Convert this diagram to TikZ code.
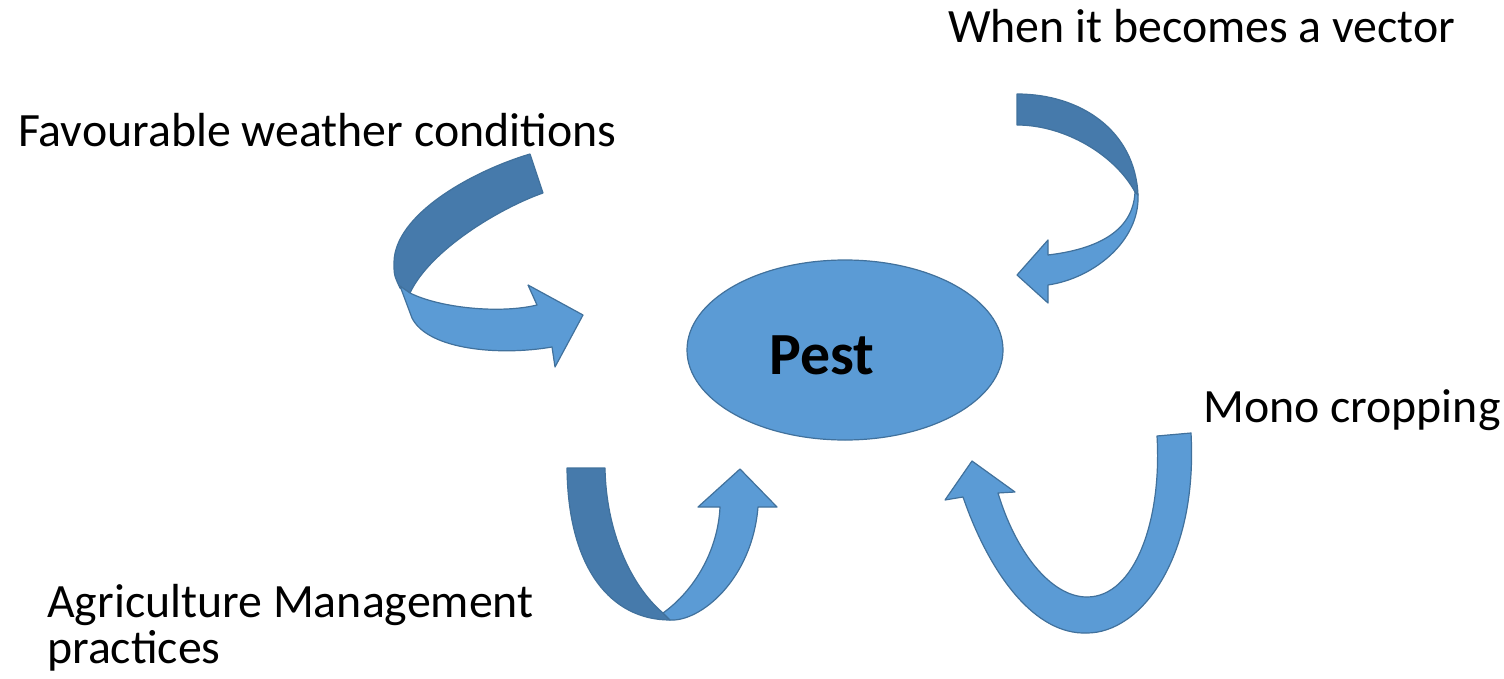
\documentclass[tikz,border=0pt]{standalone}
\usepackage{fontspec}
\setmainfont{Carlito}
\usetikzlibrary{shapes.geometric}

\definecolor{pestblue}{HTML}{5B9BD5}
\definecolor{pestdark}{HTML}{467AAB}
\definecolor{pestline}{HTML}{41719C}

\begin{document}
\begin{tikzpicture}[x=1bp, y=-1bp,
  front/.style={fill=pestblue, draw=pestline, line width=1.2bp, line join=round},
  back/.style={fill=pestdark, draw=pestline, line width=1.2bp, line join=round},
  lbl/.style={anchor=base west, inner sep=0pt, font=\fontsize{48}{58}\selectfont},
  centre/.style={ellipse, fill=pestblue, draw=pestline, line width=1.2bp,
    minimum width=316bp, minimum height=180bp, inner sep=0pt}]
  \useasboundingbox (0,0) rectangle (1504,679);

  \node[centre] (pest) at (845,350) {};
  \node[inner sep=0pt, font=\fontsize{60}{72}\selectfont\bfseries] (pestlbl) at (822,355) {Pest};

  % labels
  \node[lbl] (vector) at (948,43) {When it becomes a vector};
  \node[lbl] (weather) at (18,147) {Favourable weather conditions};
  \node[lbl] (mono) at (1203,422) {Mono cropping};
  \node[lbl] (agri) at (47,617) {Agriculture Management};
  \node[lbl] (practices) at (47,663) {practices};

  % weather arrow
  \path[back] (530,154) -- (543,193) .. controls (500,208) and (430,250) .. (410,293)
    -- (400,288) .. controls (394,275) .. (394,262)
    .. controls (395,215) and (470,172) .. (530,154) -- cycle;
  \path[front] (400,286) -- (410,293) .. controls (440,308) and (500,314) .. (537,305)
    -- (528,285) -- (583,315) -- (555,367) -- (552,347)
    .. controls (500,356) and (428,350) .. (412,318) -- cycle;

  % vector arrow
  \path[back] (1017,94) .. controls (1080,94) and (1135,130) .. (1138,195)
    -- (1135,192) .. controls (1115,155) and (1065,125) .. (1017,125) -- cycle;
  \path[front] (1135,192) -- (1138,195) .. controls (1140,240) and (1095,278) .. (1048,285)
    -- (1048,303) -- (1017,275) -- (1048,240) -- (1048,255)
    .. controls (1090,250) and (1133,235) .. (1135,192) -- cycle;

  % agriculture arrow
  \path[back] (567,468) -- (605,468) .. controls (606,530) and (630,585) .. (663,613)
    -- (670,620) .. controls (612,620) and (568,570) .. (567,468) -- cycle;
  \path[front] (663,613) .. controls (695,590) and (718,550) .. (720,507)
    -- (698,507) -- (740,469) -- (777,507) -- (758,507)
    .. controls (752,580) and (700,622) .. (670,620) -- cycle;

  % mono cropping arrow
  \path[front] (1157,436) -- (1191,433)
    .. controls (1198,560) and (1140,633) .. (1087,633)
    .. controls (1035,635) and (990,575) .. (963,497)
    -- (945,500) -- (972,461) -- (1015,492) -- (998,493)
    .. controls (1015,550) and (1050,597) .. (1087,597)
    .. controls (1135,597) and (1162,520) .. (1157,436) -- cycle;
\end{tikzpicture}
\end{document}
